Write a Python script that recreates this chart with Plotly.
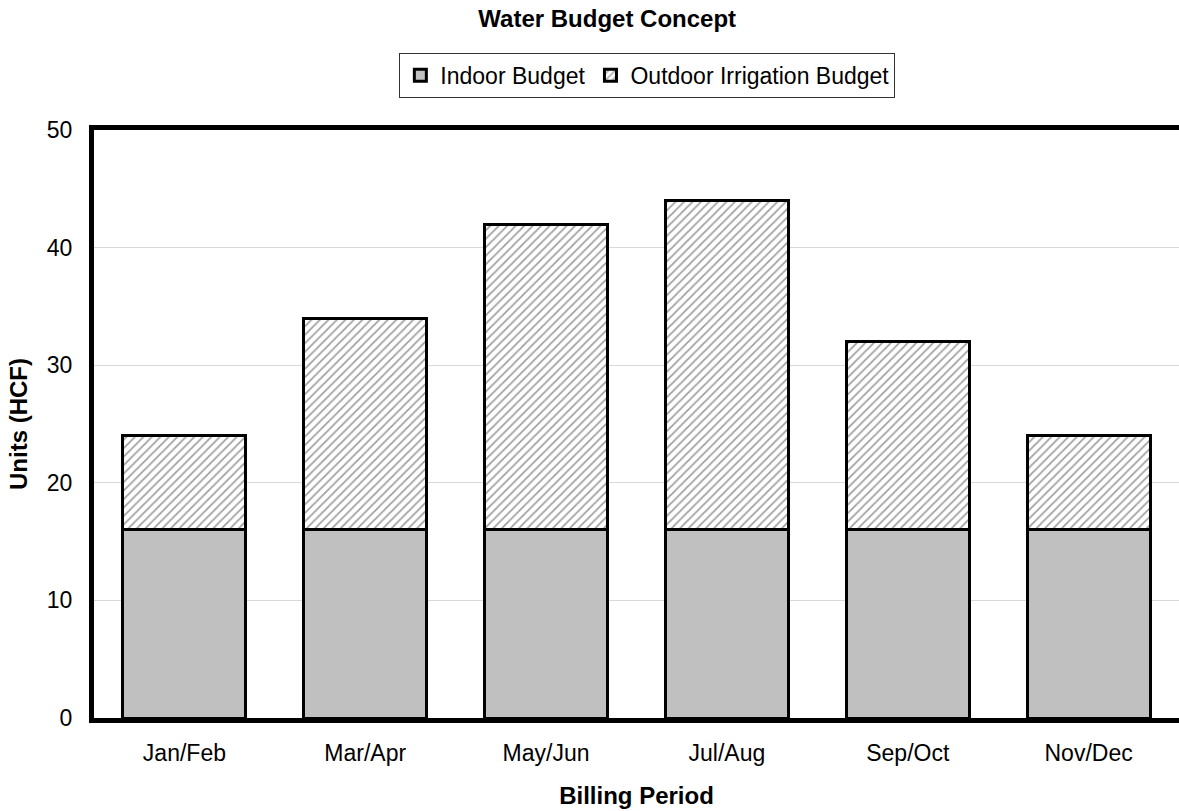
import plotly.graph_objects as go

categories = ["Jan/Feb", "Mar/Apr", "May/Jun", "Jul/Aug", "Sep/Oct", "Nov/Dec"]
indoor = [16, 16, 16, 16, 16, 16]
outdoor = [8, 18, 26, 28, 16, 8]
y_ticks = [0, 10, 20, 30, 40, 50]

fig = go.Figure()
fig.add_trace(go.Bar(
    x=categories, y=indoor, name="Indoor Budget",
    marker=dict(color="#c0c0c0", line=dict(color="black", width=3)),
    width=0.68,
))
fig.add_trace(go.Bar(
    x=categories, y=outdoor, name="Outdoor Irrigation Budget",
    marker=dict(color="white", line=dict(color="black", width=3),
                pattern=dict(shape="/", size=6, solidity=0.3, fgcolor="#444444", bgcolor="white")),
    width=0.68,
))

fig.update_layout(
    barmode="stack",
    width=1179, height=811,
    margin=dict(l=94, r=0, t=130, b=93),
    paper_bgcolor="white", plot_bgcolor="white",
    font=dict(family="Liberation Sans, Arial, sans-serif", color="black", size=23),
    title=dict(text="<b>Water Budget Concept</b>", x=0.473, xref="paper", xanchor="center",
               y=0.977, yanchor="middle", font=dict(size=24)),
    legend=dict(orientation="h", x=0.51, xanchor="center", y=1.093, yanchor="middle",
                traceorder="normal",
                bordercolor="#333333", borderwidth=1, font=dict(size=23),
                itemwidth=30, tracegroupgap=0),
    showlegend=True,
)
fig.update_xaxes(
    showline=True, linecolor="black", linewidth=5, mirror=True,
    ticks="", tickfont=dict(size=23), ticklabelstandoff=10,
    title=dict(text="<b>Billing Period</b>", font=dict(size=24), standoff=24),
    range=[-0.5, 5.5],
)
fig.update_yaxes(
    showline=True, linecolor="black", linewidth=5, mirror=False,
    range=[0, 50], tickvals=y_ticks, ticktext=[str(v) for v in y_ticks],
    showgrid=True, gridcolor="#d9d9d9", gridwidth=1,
    tickfont=dict(size=23), ticks="", ticklabelstandoff=12,
    title=dict(text="<b>Units (HCF)</b>", font=dict(size=24), standoff=14),
    zeroline=False,
)

fig.write_html("out.html")
